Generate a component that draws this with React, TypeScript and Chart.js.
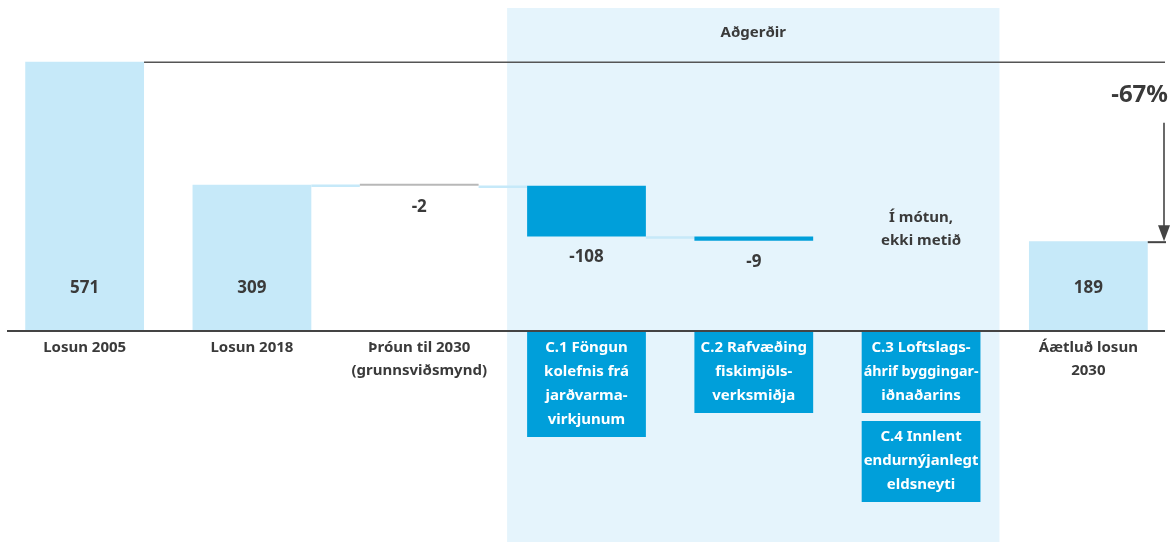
import React, { useEffect, useRef } from "react";
import { Chart, registerables } from "chart.js";

Chart.register(...registerables);

// ---------- data ----------
const categories = [
  "Losun 2005",
  "Losun 2018",
  "Þróun til 2030 (grunnsviðsmynd)",
  "C.1 Föngun kolefnis frá jarðvarmavirkjunum",
  "C.2 Rafvæðing fiskimjölsverksmiðja",
  "C.3 / C.4",
  "Áætluð losun 2030",
];
const values: (number | null)[] = [571, 309, -2, -108, -9, null, 189];
const kinds = ["total", "total", "delta", "delta", "delta", "none", "total"];
const valueLabels = ["571", "309", "-2", "-108", "-9", "", "189"];
const categoryLines: string[][] = [
  ["Losun 2005"],
  ["Losun 2018"],
  ["Þróun til 2030", "(grunnsviðsmynd)"],
  ["C.1 Föngun", "kolefnis frá", "jarðvarma-", "virkjunum"],
  ["C.2 Rafvæðing", "fiskimjöls-", "verksmiðja"],
  ["C.3 Loftslags-", "áhrif byggingar-", "iðnaðarins"],
  ["Áætluð losun", "2030"],
];
const boxedCategories = [3, 4, 5];
const extraBoxCategory = 5;
const extraBoxLines = ["C.4 Innlent", "endurnýjanlegt", "eldsneyti"];
const noteCategory = 5;
const noteLines = ["Í mótun,", "ekki metið"];
const groupTitle = "Aðgerðir";
const groupRange = [3, 5];
const changeLabel = "-67%";

// ---------- derived ----------
const ranges: ([number, number] | null)[] = [];
const levels: number[] = [];
{
  let run = 0;
  values.forEach((v, i) => {
    if (v == null) {
      ranges.push(null);
    } else if (kinds[i] === "total") {
      ranges.push([0, v]);
      run = v;
    } else {
      ranges.push([run + v, run]);
      run += v;
    }
    levels.push(run);
  });
}

const FONT = "'Noto Sans', 'Open Sans', sans-serif";
const TEXT = "#3a3a3a";
const LIGHT = "#c6e9f9";
const DARK = "#009fda";
const SHADE = "#e5f4fc";
const LINE = "#444444";

const barColors = kinds.map((k, i) =>
  k === "total" ? LIGHT : i === 2 ? "#b8b8b8" : k === "delta" ? DARK : "rgba(0,0,0,0)"
);

// fit text into a max width by condensing slightly if needed
function fitText(ctx: CanvasRenderingContext2D, t: string, x: number, y: number, maxW: number) {
  const w = ctx.measureText(t).width;
  if (w <= maxW) {
    ctx.fillText(t, x, y);
  } else {
    ctx.save();
    ctx.translate(x, y);
    ctx.scale(maxW / w, 1);
    ctx.fillText(t, 0, 0);
    ctx.restore();
  }
}

const decor = {
  id: "waterfallDecor",
  beforeDatasetsDraw(chart: any) {
    const ctx = chart.ctx;
    const xs = chart.scales.x;
    const ys = chart.scales.y;
    const meta = chart.getDatasetMeta(0);
    const bw = (meta.data[0] as any).width;
    ctx.save();
    // shaded group region
    const l = xs.getPixelForValue(groupRange[0]) - bw / 2 - 20;
    const r = xs.getPixelForValue(groupRange[1]) + bw / 2 + 19;
    ctx.fillStyle = SHADE;
    ctx.fillRect(l, 8, r - l, chart.height - 8);
    ctx.fillStyle = TEXT;
    ctx.font = `bold 15px ${FONT}`;
    ctx.textAlign = "center";
    ctx.textBaseline = "middle";
    ctx.fillText(groupTitle, (l + r) / 2, 33);
    // connectors
    ctx.strokeStyle = LIGHT;
    ctx.lineWidth = 2.5;
    for (let i = 0; i < values.length - 1; i++) {
      if (kinds[i + 1] !== "delta" || ranges[i] == null) continue;
      const yy = ys.getPixelForValue(levels[i]) + 1;
      ctx.beginPath();
      ctx.moveTo(xs.getPixelForValue(i) + bw / 2, yy);
      ctx.lineTo(xs.getPixelForValue(i + 1) - bw / 2, yy);
      ctx.stroke();
    }
    ctx.restore();
  },
  afterDatasetsDraw(chart: any) {
    const ctx = chart.ctx;
    const xs = chart.scales.x;
    const ys = chart.scales.y;
    const meta = chart.getDatasetMeta(0);
    const bw = (meta.data[0] as any).width;
    const y0 = ys.getPixelForValue(0);
    ctx.save();
    // top reference line at first total
    const yTop = ys.getPixelForValue(levels[0]);
    const xEnd = chart.width - 8;
    ctx.strokeStyle = "#555";
    ctx.lineWidth = 1.5;
    ctx.beginPath();
    ctx.moveTo(xs.getPixelForValue(0) + bw / 2, yTop + 0.5);
    ctx.lineTo(xEnd, yTop + 0.5);
    ctx.stroke();
    // axis
    ctx.fillStyle = LINE;
    ctx.fillRect(7, y0, xEnd - 7, 2);
    // arrow to final total
    const last = values.length - 1;
    const yFinal = ys.getPixelForValue(levels[last]);
    const ax = xEnd - 1;
    ctx.strokeStyle = LINE;
    ctx.lineWidth = 1.6;
    ctx.beginPath();
    ctx.moveTo(ax, yTop + 61);
    ctx.lineTo(ax, yFinal - 14);
    ctx.stroke();
    ctx.fillStyle = LINE;
    ctx.beginPath();
    ctx.moveTo(ax - 6, yFinal - 16);
    ctx.lineTo(ax + 6, yFinal - 16);
    ctx.lineTo(ax, yFinal);
    ctx.closePath();
    ctx.fill();
    ctx.lineWidth = 2;
    ctx.beginPath();
    ctx.moveTo(xs.getPixelForValue(last) + bw / 2, yFinal + 1);
    ctx.lineTo(xEnd + 1, yFinal + 1);
    ctx.stroke();
    ctx.fillStyle = TEXT;
    ctx.font = `bold 24px ${FONT}`;
    ctx.textAlign = "right";
    ctx.textBaseline = "middle";
    ctx.fillText(changeLabel, xEnd + 3, yTop + 34);

    // value labels
    ctx.textAlign = "center";
    ctx.font = `bold 17px ${FONT}`;
    values.forEach((v, i) => {
      const rg = ranges[i];
      if (v == null || rg == null) return;
      const cx = xs.getPixelForValue(i);
      if (kinds[i] === "total") {
        ctx.fillText(valueLabels[i], cx, y0 - 42);
      } else {
        ctx.fillText(valueLabels[i], cx, ys.getPixelForValue(rg[0]) + 21);
      }
    });
    // note in unevaluated category
    ctx.font = `bold 15px ${FONT}`;
    const ny = ys.getPixelForValue(levels[noteCategory]);
    ctx.fillText(noteLines[0], xs.getPixelForValue(noteCategory), ny - 23);
    ctx.fillText(noteLines[1], xs.getPixelForValue(noteCategory), ny);

    // category labels
    const lh = 24;
    const drawBox = (cx: number, top: number, lines: string[]) => {
      ctx.fillStyle = DARK;
      ctx.fillRect(cx - bw / 2, top, bw, lines.length * lh + 9);
      ctx.fillStyle = "#ffffff";
      lines.forEach((t, k) => fitText(ctx, t, cx, top + 16 + k * lh, bw - 4));
      return top + lines.length * lh + 9;
    };
    categoryLines.forEach((lines, i) => {
      const cx = xs.getPixelForValue(i);
      if (boxedCategories.includes(i)) {
        const bottom = drawBox(cx, y0 + 2, lines);
        if (i === extraBoxCategory) drawBox(cx, bottom + 8, extraBoxLines);
      } else {
        ctx.fillStyle = TEXT;
        lines.forEach((t, k) => ctx.fillText(t, cx, y0 + 18 + k * 23));
      }
    });
    ctx.restore();
  },
};

export default function App() {
  const ref = useRef<HTMLCanvasElement | null>(null);
  useEffect(() => {
    if (!ref.current) return;
    const chart = new Chart(ref.current, {
      type: "bar",
      data: {
        labels: categories,
        datasets: [
          {
            data: ranges as any,
            backgroundColor: barColors,
            borderWidth: 0,
            barPercentage: 0.71,
            categoryPercentage: 1,
            minBarLength: 2,
          },
        ],
      },
      options: {
        responsive: false,
        animation: false,
        events: [],
        layout: { padding: { top: 48, bottom: 212, left: 1, right: 1 } },
        plugins: { legend: { display: false }, tooltip: { enabled: false } },
        scales: {
          x: { type: "category", display: false, offset: true, grid: { display: false } },
          y: { display: false, min: 0, max: 600 },
        },
      },
      plugins: [decor],
    });
    return () => chart.destroy();
  }, []);
  return (
    <div style={{ position: "absolute", left: 0, top: 0, width: 1173, height: 542, background: "#fff" }}>
      <canvas ref={ref} width={1173} height={542} style={{ display: "block" }} />
    </div>
  );
}
